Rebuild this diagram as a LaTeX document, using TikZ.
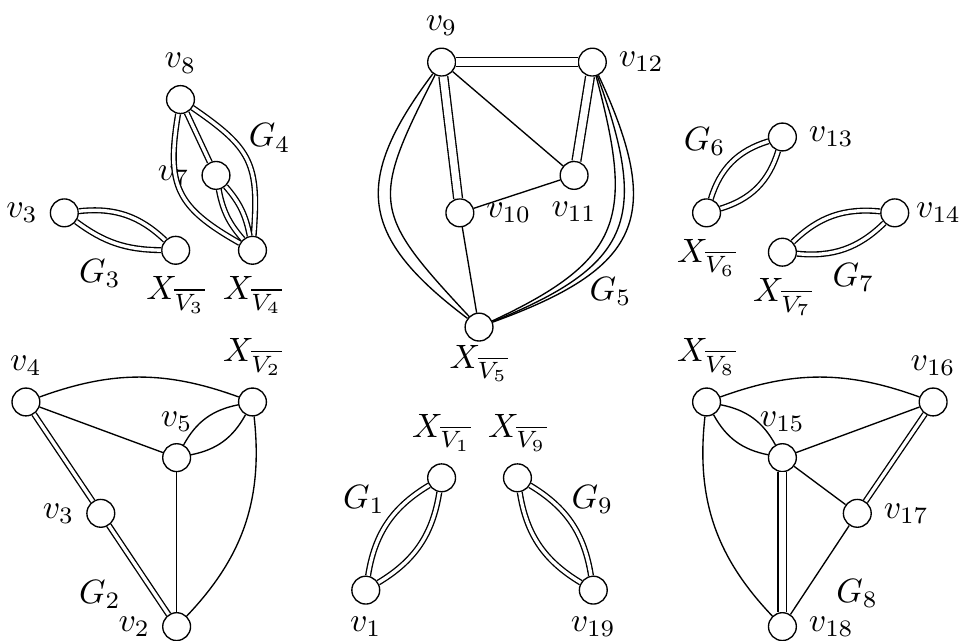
\documentclass[tikz,border=0pt]{standalone}
\usepackage{amsmath,amssymb}
\usepackage{tikz}
\usetikzlibrary{positioning}

\begin{document}
\begin{tikzpicture}[
    vtx/.style={circle, draw, fill=white, minimum size=0.29cm, inner sep=0pt},
    dbl/.style={double, double distance=1pt},
    wdbl/.style={double, double distance=2.2pt},
    glab/.style={inner sep=0pt}
]
\useasboundingbox (0,0) rectangle (10,6.667);

% Nodes: G3 and G4
\node[vtx, label=above:$v_8$] (v8) at (1.88,5.63) {};
\node[vtx, label=left:$v_7$] (v7) at (2.25,4.84) {};
\node[vtx, label=left:$v_3$] (v3a) at (0.67,4.45) {};
\node[vtx, label=below:$X_{\overline{V_3}}$] (xv3) at (1.83,4.06) {};
\node[vtx, label=below:$X_{\overline{V_4}}$] (xv4) at (2.63,4.06) {};
\node[glab] (g3) at (1.04,3.82) {$G_3$};
\node[glab] (g4) at (2.81,5.23) {$G_4$};

% Nodes: G5
\node[vtx, label=above:$v_9$] (v9) at (4.60,6.02) {};
\node[vtx, label=right:$v_{12}$] (v12) at (6.17,6.02) {};
\node[vtx, label=below:$v_{11}$] (v11) at (5.98,4.84) {};
\node[vtx, label=right:$v_{10}$] (v10) at (4.79,4.45) {};
\node[vtx, label={[label distance=-2.5pt]below:$X_{\overline{V_5}}$}] (xv5) at (4.99,3.26) {};
\node[glab] (g5) at (6.36,3.63) {$G_5$};

% Nodes: G6 and G7
\node[vtx, label=right:$v_{13}$] (v13) at (8.15,5.24) {};
\node[vtx, label=below:$X_{\overline{V_6}}$] (xv6) at (7.36,4.45) {};
\node[vtx, label={[label distance=-1.5pt]right:$v_{14}$}] (v14) at (9.32,4.45) {};
\node[vtx, label=below:$X_{\overline{V_7}}$] (xv7) at (8.15,4.04) {};
\node[glab] (g6) at (7.34,5.19) {$G_6$};
\node[glab] (g7) at (8.89,3.78) {$G_7$};

% Nodes: G2
\node[vtx, label=above:$v_4$] (v4) at (0.27,2.48) {};
\node[vtx, label=above:$X_{\overline{V_2}}$] (xv2) at (2.63,2.48) {};
\node[vtx, label=above:$v_5$] (v5) at (1.84,1.90) {};
\node[vtx, label=left:$v_3$] (v3b) at (1.05,1.32) {};
\node[vtx, label=left:$v_2$] (v2) at (1.84,0.14) {};
\node[glab] (g2) at (1.04,0.47) {$G_2$};

% Nodes: G1 and G9
\node[vtx, label=above:$X_{\overline{V_1}}$] (xv1) at (4.60,1.69) {};
\node[vtx, label=below:$v_1$] (v1) at (3.81,0.52) {};
\node[vtx, label=above:$X_{\overline{V_9}}$] (xv9) at (5.39,1.69) {};
\node[vtx, label=below:$v_{19}$] (v19) at (6.18,0.52) {};
\node[glab] (g1) at (3.79,1.46) {$G_1$};
\node[glab] (g9) at (6.17,1.46) {$G_9$};

% Nodes: G8
\node[vtx, label=above:$X_{\overline{V_8}}$] (xv8) at (7.36,2.48) {};
\node[vtx, label=above:$v_{16}$] (v16) at (9.72,2.48) {};
\node[vtx, label=above:$v_{15}$] (v15) at (8.15,1.90) {};
\node[vtx, label=right:$v_{17}$] (v17) at (8.93,1.32) {};
\node[vtx, label=right:$v_{18}$] (v18) at (8.15,0.14) {};
\node[glab] (g8) at (8.93,0.49) {$G_8$};

% Edges: G3 and G4
\draw[dbl] (v3a) to[bend left=25] (xv3);
\draw[dbl] (v3a) to[bend right=18] (xv3);
\draw[dbl] (v8) to[bend right=35, looseness=1.3] (xv4);
\draw[dbl] (v8) to[bend left=30, looseness=1.3] (xv4);
\draw[dbl] (v8) -- (v7);
\draw[dbl] (v7) to[bend right=15] (xv4);
\draw[dbl] (v7) to[bend left=15] (xv4);

% Edges: G5
\draw[wdbl] (v9) -- (v12);
\draw[wdbl] (v9) -- (v10);
\draw[wdbl] (v12) -- (v11);
\draw (v9) -- (v11);
\draw (v10) -- (v11);
\draw (v10) -- (xv5);
\draw (v9) to[bend right=45, looseness=1.4] (xv5);
\draw (v9) to[bend right=35, looseness=1.5] (xv5);
\draw (v12) to[out=-75, in=25, looseness=1.4] (xv5);
\draw (v12) to[out=-70, in=22, looseness=1.45] (xv5);
\draw (v12) to[out=-65, in=20, looseness=1.5] (xv5);

% Edges: G6 and G7
\draw[dbl] (v13) to[bend left=28] (xv6);
\draw[dbl] (v13) to[bend right=28] (xv6);
\draw[dbl] (v14) to[bend left=25] (xv7);
\draw[dbl] (v14) to[bend right=25] (xv7);

% Edges: G2
\draw (v4) to[bend left=20] (xv2);
\draw (v4) -- (v5);
\draw[dbl] (v4) -- (v3b);
\draw[dbl] (v3b) -- (v2);
\draw (v5) to[bend left=25] (xv2);
\draw (v5) to[bend right=25] (xv2);
\draw (v5) -- (v2);
\draw (xv2) to[bend left=25] (v2);

% Edges: G1 and G9
\draw[dbl] (xv1) to[bend left=25] (v1);
\draw[dbl] (xv1) to[bend right=25] (v1);
\draw[dbl] (xv9) to[bend left=25] (v19);
\draw[dbl] (xv9) to[bend right=25] (v19);

% Edges: G8
\draw (xv8) to[bend left=20] (v16);
\draw (xv8) to[bend left=25] (v15);
\draw (xv8) to[bend right=25] (v15);
\draw (v15) -- (v16);
\draw[dbl] (v16) -- (v17);
\draw (v15) -- (v17);
\draw[wdbl] (v15) -- (v18);
\draw (v17) -- (v18);
\draw (xv8) to[bend right=25] (v18);

\end{tikzpicture}
\end{document}
